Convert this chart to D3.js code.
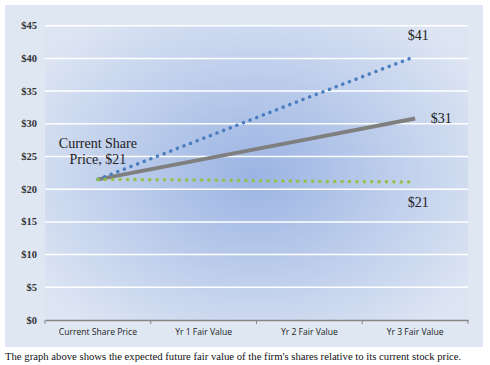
<!DOCTYPE html>
<html>
<head>
<meta charset="utf-8">
<script src="https://cdn.jsdelivr.net/npm/d3@7"></script>
<style>
  body { margin: 0; background: #fff; }
</style>
</head>
<body>
<script>
var categories = ["Current Share Price", "Yr 1 Fair Value", "Yr 2 Fair Value", "Yr 3 Fair Value"];
var blueSeries = [21.5, 27.8, 34.1, 40.3];
var greySeries = [21.5, 24.6, 27.7, 30.8];
var greenSeries = [21.5, 21.4, 21.2, 21.1];
var yTicks = [0, 5, 10, 15, 20, 25, 30, 35, 40, 45];
var endLabels = ["$41", "$31", "$21"];
var startLabel = ["Current Share", "Price, $21"];

var W = 490, H = 365;
var plot = { left: 45, right: 468, top: 25.7, bottom: 320 };

var svg = d3.select("body").append("svg")
    .attr("width", W)
    .attr("height", H);

var defs = svg.append("defs");
var grad = defs.append("radialGradient")
    .attr("id", "bg")
    .attr("gradientUnits", "userSpaceOnUse")
    .attr("cx", 255).attr("cy", 175).attr("r", 260)
    .attr("gradientTransform", "translate(255,175) scale(1,0.75) translate(-255,-175)");
grad.append("stop").attr("offset", "0%").attr("stop-color", "#9bb4e3");
grad.append("stop").attr("offset", "100%").attr("stop-color", "#dde5f3");

// outer panel
svg.append("rect")
    .attr("x", 5).attr("y", 5)
    .attr("width", 478).attr("height", 342)
    .attr("fill", "#dfe7f3");

svg.append("rect")
    .attr("x", plot.left).attr("y", plot.top)
    .attr("width", plot.right - plot.left).attr("height", plot.bottom - plot.top)
    .attr("fill", "url(#bg)");

var x = d3.scaleBand().domain(categories).range([plot.left, plot.right]);
var y = d3.scaleLinear().domain([0, 45]).range([plot.bottom, plot.top]);

// gridlines
svg.append("g")
    .selectAll("line")
    .data(yTicks.filter(function(d) { return d > 0; }))
    .enter().append("line")
    .attr("x1", plot.left).attr("x2", plot.right)
    .attr("y1", function(d) { return y(d); })
    .attr("y2", function(d) { return y(d); })
    .attr("stroke", "#ffffff")
    .attr("stroke-width", 1.5);

var serif = "'Liberation Serif', 'Times New Roman', serif";

// y axis labels
svg.append("g")
    .selectAll("text")
    .data(yTicks)
    .enter().append("text")
    .attr("x", 37)
    .attr("y", function(d) { return y(d) + 3.5; })
    .attr("text-anchor", "end")
    .style("font-family", serif)
    .style("font-weight", "bold")
    .style("font-size", "10.5px")
    .style("fill", "#333")
    .text(function(d) { return "$" + d; });

// x axis
var xAxis = svg.append("g")
    .attr("transform", "translate(0," + plot.bottom + ")")
    .call(d3.axisBottom(x).tickSize(0).tickPadding(9));
xAxis.select(".domain").attr("stroke", "#868686").attr("stroke-width", 1.5);
xAxis.selectAll("text")
    .style("font-family", "'Open Sans', sans-serif")
    .style("font-size", "8.6px")
    .style("fill", "#222");
var edges = categories.map(function(c) { return x(c); }).concat([plot.right]);
xAxis.selectAll(".sep")
    .data(edges)
    .enter().append("line")
    .attr("class", "sep")
    .attr("x1", function(d) { return d; }).attr("x2", function(d) { return d; })
    .attr("y1", 0).attr("y2", 4)
    .attr("stroke", "#868686");

var line = d3.line()
    .x(function(d, i) { return x(categories[i]) + x.bandwidth() / 2; })
    .y(function(d) { return y(d); });

svg.append("path")
    .datum(greySeries)
    .attr("d", line)
    .attr("fill", "none")
    .attr("stroke", "#7f7f7f")
    .attr("stroke-width", 4);

svg.append("path")
    .datum(blueSeries)
    .attr("d", line)
    .attr("fill", "none")
    .attr("stroke", "#4a7ebf")
    .attr("stroke-width", 3.5)
    .attr("stroke-linecap", "round")
    .attr("stroke-dasharray", "0.1,7");

svg.append("path")
    .datum(greenSeries)
    .attr("d", line)
    .attr("fill", "none")
    .attr("stroke", "#93c149")
    .attr("stroke-width", 3.5)
    .attr("stroke-linecap", "round")
    .attr("stroke-dasharray", "0.1,7.3");

var last = x(categories[3]) + x.bandwidth() / 2;

svg.append("text").attr("x", last + 3).attr("y", 40)
    .attr("text-anchor", "middle")
    .style("font-family", serif).style("font-size", "14px").style("fill", "#222")
    .text(endLabels[0]);
svg.append("text").attr("x", last + 26).attr("y", 123)
    .attr("text-anchor", "middle")
    .style("font-family", serif).style("font-size", "14px").style("fill", "#222")
    .text(endLabels[1]);
svg.append("text").attr("x", last + 3).attr("y", 207)
    .attr("text-anchor", "middle")
    .style("font-family", serif).style("font-size", "14px").style("fill", "#222")
    .text(endLabels[2]);

var first = x(categories[0]) + x.bandwidth() / 2;
var lbl = svg.append("text")
    .attr("text-anchor", "middle")
    .style("font-family", serif).style("font-size", "14px").style("fill", "#222");
lbl.append("tspan").attr("x", first).attr("y", 148).text(startLabel[0]);
lbl.append("tspan").attr("x", first).attr("y", 164).text(startLabel[1]);

svg.append("text")
    .attr("x", 5).attr("y", 360)
    .style("font-family", serif).style("font-size", "10.7px").style("fill", "#111")
    .text("The graph above shows the expected future fair value of the firm's shares relative to its current stock price.");
</script>
</body>
</html>
